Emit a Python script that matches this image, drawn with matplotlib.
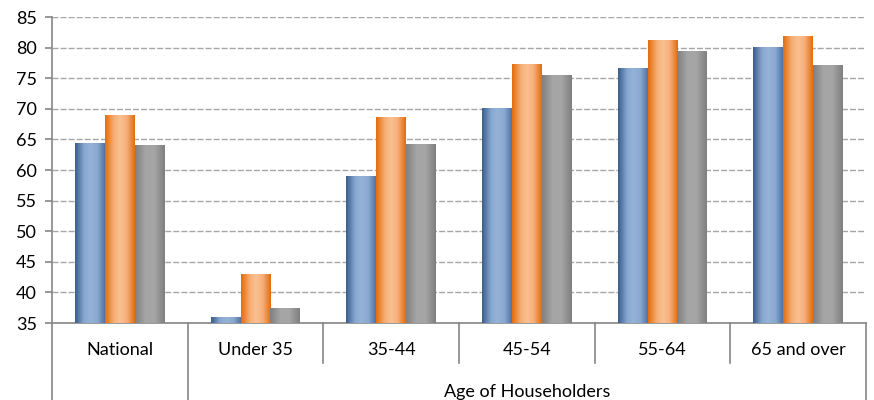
import numpy as np
import matplotlib.pyplot as plt
from matplotlib.colors import LinearSegmentedColormap

categories = ['National', 'Under 35', '35-44', '45-54', '55-64', '65 and over']
series_a = [64.4, 36.0, 59.0, 70.1, 76.6, 80.1]
series_b = [69.0, 43.0, 68.6, 77.4, 81.2, 81.9]
series_c = [64.1, 37.5, 64.2, 75.5, 79.4, 77.1]
group_label = 'Age of Householders'
yticks = list(range(35, 90, 5))

plt.rcParams['font.family'] = ['Lato', 'DejaVu Sans']

fig = plt.figure(figsize=(8.74, 4.0), dpi=100)
ax = fig.add_axes([52 / 874, 77 / 400, (866 - 52) / 874, (323 - 17) / 400])

# gradient stops for each series (edge dark, centre light)
gradients = [
    [(0.0, '#3a5d8c'), (0.3, '#87a6cf'), (0.5, '#95b3d7'), (0.75, '#8aa9d1'), (1.0, '#5272a2')],
    [(0.0, '#e46c0a'), (0.3, '#f6ae76'), (0.5, '#fac090'), (0.72, '#f7b07c'), (1.0, '#e46c0a')],
    [(0.0, '#7f7f7f'), (0.35, '#a5a5a5'), (0.65, '#a5a5a5'), (1.0, '#7f7f7f')],
]

ymin, ymax = 35, 85
x = np.arange(len(categories))
w = 0.22
grad = np.linspace(0, 1, 128).reshape(1, -1)
for i, (vals, stops) in enumerate(zip([series_a, series_b, series_c], gradients)):
    cmap = LinearSegmentedColormap.from_list('g%d' % i, stops)
    bars = ax.bar(x + (i - 1) * w, vals, w, color='none', edgecolor='none', zorder=3)
    for b in bars:
        im = ax.imshow(grad, cmap=cmap, aspect='auto', zorder=3,
                       extent=[b.get_x(), b.get_x() + b.get_width(), ymin, b.get_height()])
        im.set_clip_path(b)

ax.set_xlim(-0.5, len(categories) - 0.5)
ax.set_ylim(ymin, ymax)
ax.set_yticks(yticks)
ax.set_xticks([])
ax.yaxis.grid(True, linestyle=(0, (4.3, 1.5)), color='#a6a6a6', linewidth=1.0)
ax.set_axisbelow(True)

for s in ['top', 'right']:
    ax.spines[s].set_visible(False)
for s in ['left', 'bottom']:
    ax.spines[s].set_color('#868686')
    ax.spines[s].set_linewidth(1.2)
ax.tick_params(axis='y', direction='out', length=5, width=1.2, color='#868686',
               labelsize=13, pad=6)

# two-level category axis
tr = ax.get_xaxis_transform()
inner = -40 / 306
outer = -77 / 306
for k in range(len(categories) + 1):
    xb = k - 0.5
    low = outer if k in (0, 1, len(categories)) else inner
    ax.plot([xb, xb], [0, low], transform=tr, clip_on=False, color='#868686', lw=1.2)
for k, c in enumerate(categories):
    ax.text(k, -27 / 306, c, transform=tr, ha='center', va='center', fontsize=13)
ax.text((0.5 + len(categories) - 0.5) / 2, -69 / 306, group_label, transform=tr,
        ha='center', va='center', fontsize=13)

fig.savefig('out.png', dpi=100)
